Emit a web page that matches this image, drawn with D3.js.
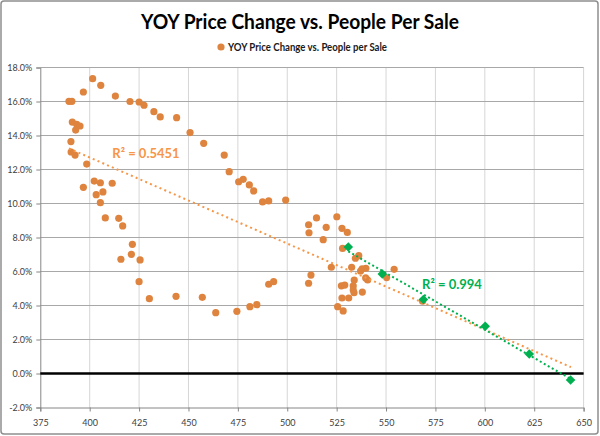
<!DOCTYPE html>
<html>
<head>
<meta charset="utf-8">
<script src="https://cdn.jsdelivr.net/npm/d3@7/dist/d3.min.js"></script>
<style>
  html, body { margin: 0; padding: 0; background: #fff; }
  svg { display: block; font-family: Lato, "Open Sans", sans-serif; }
</style>
</head>
<body>
<svg id="chart" width="600" height="436"></svg>
<script>
// ---------------- DATA ----------------
const chartTitle = "YOY Price Change vs. People Per Sale";
const legendLabel = "YOY Price Change vs. People per Sale";

// orange series: people per sale (x) and YOY price change in % (y)
const peoplePerSale = [
  401.5, 405.6, 396.8, 389.5, 391.0, 413.0, 420.4, 425.0, 427.5, 432.5,
  435.7, 444.0, 450.8, 457.7, 468.1, 470.6, 475.4, 477.7, 480.8, 483.0,
  487.5, 490.6, 499.2, 391.2, 393.4, 395.1, 392.9, 390.5, 390.6, 392.6,
  398.5, 396.8, 402.3, 405.4, 411.4, 403.3, 406.7, 405.4, 407.9, 414.7,
  416.7, 421.6, 421.1, 415.8, 425.5, 425.0, 430.2, 443.7, 457.0, 463.8,
  474.5, 481.1, 484.6, 490.6, 493.1, 510.8, 511.0, 514.8, 519.7, 518.2,
  525.1, 527.7, 530.4, 528.0, 534.5, 536.2, 522.3, 532.6, 537.1, 539.8,
  537.9, 554.1, 539.7, 540.7, 533.9, 512.0, 510.8, 527.4, 529.1, 533.4,
  533.4, 533.8, 538.0, 550.3, 527.7, 531.1, 525.5, 528.3, 568.5
];
const yoyChange = [
  17.34, 16.95, 16.56, 16.01, 16.01, 16.32, 16.00, 15.97, 15.78, 15.40,
  15.09, 15.05, 14.17, 13.54, 12.85, 11.87, 11.28, 11.42, 11.09, 10.74,
  10.09, 10.15, 10.20, 14.79, 14.66, 14.56, 14.32, 13.64, 13.03, 12.85,
  12.32, 10.95, 11.32, 11.22, 11.19, 10.52, 10.68, 10.05, 9.15, 9.13,
  8.68, 7.60, 7.01, 6.72, 6.68, 5.40, 4.40, 4.54, 4.48, 3.58,
  3.66, 3.93, 4.05, 5.25, 5.40, 8.75, 8.28, 9.15, 8.60, 7.87,
  9.22, 8.54, 8.30, 7.36, 6.78, 6.93, 6.25, 6.25, 6.03, 6.19,
  6.16, 6.13, 5.62, 5.50, 5.50, 5.79, 5.31, 5.16, 5.20, 5.15,
  4.91, 4.75, 4.79, 5.64, 4.44, 4.44, 3.93, 3.68, 4.25
];

// green series (projection points)
const greenPeoplePerSale = [530.9, 548.1, 568.9, 600.2, 622.5, 643.4];
const greenYoyChange = [7.44, 5.85, 4.35, 2.78, 1.15, -0.38];

// trendline info
const orangeR2Label = "R² = 0.5451";
const greenR2Label = "R² = 0.994";
const orangeTrendForwardTo = 643.6;   // orange trendline forecast end (x value)

// axis ticks
const xTicks = [375, 400, 425, 450, 475, 500, 525, 550, 575, 600, 625, 650];
const yTicks = [-2, 0, 2, 4, 6, 8, 10, 12, 14, 16, 18];

// ---------------- DRAW ----------------
const svg = d3.select("#chart");
const W = 600, H = 436;
const orange = "#DE843F", orangeLine = "#F79646", green = "#00B050";

// outer chart border
svg.append("rect").attr("x", 1).attr("y", 1).attr("width", W - 3).attr("height", H - 3)
  .attr("rx", 3).attr("fill", "#fff").attr("stroke", "#8e8e8e").attr("stroke-width", 1.5);

const x = d3.scaleLinear().domain([375, 650]).range([40.3, 583.6]);
const y = d3.scaleLinear().domain([-2, 18]).range([407.5, 67.5]);

function fitText(sel, maxW) {
  const n = sel.node();
  const w = n.getComputedTextLength();
  if (w > maxW) sel.attr("textLength", maxW).attr("lengthAdjust", "spacingAndGlyphs");
}

// title
const t = svg.append("text").attr("x", 300).attr("y", 29).attr("text-anchor", "middle")
  .attr("font-size", 20).attr("font-weight", "bold").attr("fill", "#000").text(chartTitle);
fitText(t, 318);

// legend
svg.append("circle").attr("cx", 221).attr("cy", 47).attr("r", 3.6).attr("fill", orange);
const lg = svg.append("text").attr("x", 228).attr("y", 50.5).attr("font-size", 10.5)
  .attr("font-weight", "bold").attr("fill", "#1a1a1a").text(legendLabel);
fitText(lg, 159);

// gridlines
const grid = svg.append("g");
grid.selectAll("line.v").data(xTicks.slice(1)).join("line")
  .attr("x1", d => x(d)).attr("x2", d => x(d)).attr("y1", y(18)).attr("y2", y(-2))
  .attr("stroke", "#d6d6d6").attr("stroke-width", 1);
grid.selectAll("line.h").data(yTicks.slice(1)).join("line")
  .attr("x1", x(375)).attr("x2", x(650)).attr("y1", d => y(d)).attr("y2", d => y(d))
  .attr("stroke", "#a8a8a8").attr("stroke-width", 1);

// axes
const yAxis = svg.append("g").attr("transform", `translate(${x(375)},0)`)
  .call(d3.axisLeft(y).tickValues(yTicks).tickSize(4).tickPadding(4)
    .tickFormat(d => d.toFixed(1) + "%"));
const xAxis = svg.append("g").attr("transform", `translate(0,${y(-2)})`)
  .call(d3.axisBottom(x).tickValues(xTicks).tickSize(4).tickPadding(8)
    .tickFormat(d3.format("d")));
[yAxis, xAxis].forEach(a => {
  a.select(".domain").attr("stroke", "#868686");
  a.selectAll(".tick line").attr("stroke", "#868686");
  a.selectAll(".tick text").attr("font-size", 9).attr("fill", "#404040")
    .attr("font-family", "Lato, 'Open Sans', sans-serif");
});

// zero line
svg.append("line").attr("x1", x(375)).attr("x2", x(650)).attr("y1", y(0)).attr("y2", y(0))
  .attr("stroke", "#000").attr("stroke-width", 2.6);

// regression helper
function linreg(xs, ys) {
  const n = xs.length;
  const mx = d3.mean(xs), my = d3.mean(ys);
  let sxy = 0, sxx = 0;
  for (let i = 0; i < n; i++) { sxy += (xs[i] - mx) * (ys[i] - my); sxx += (xs[i] - mx) ** 2; }
  const b = sxy / sxx;
  return { b, a: my - b * mx };
}

// orange points
const orangeData = peoplePerSale.map((v, i) => ({ x: v, y: yoyChange[i] }));
svg.append("g").selectAll("circle").data(orangeData).join("circle")
  .attr("cx", d => x(d.x)).attr("cy", d => y(d.y)).attr("r", 3.6).attr("fill", orange);

// orange trendline
const oFit = linreg(peoplePerSale, yoyChange);
const ox0 = d3.min(peoplePerSale), ox1 = orangeTrendForwardTo;
svg.append("line")
  .attr("x1", x(ox0)).attr("y1", y(oFit.a + oFit.b * ox0))
  .attr("x2", x(ox1)).attr("y2", y(oFit.a + oFit.b * ox1))
  .attr("stroke", orangeLine).attr("stroke-width", 2).attr("stroke-dasharray", "2,3.2");

// green trendline
const gFit = linreg(greenPeoplePerSale, greenYoyChange);
const gx0 = d3.min(greenPeoplePerSale), gx1 = d3.max(greenPeoplePerSale);
svg.append("line")
  .attr("x1", x(gx0)).attr("y1", y(gFit.a + gFit.b * gx0))
  .attr("x2", x(gx1)).attr("y2", y(gFit.a + gFit.b * gx1))
  .attr("stroke", green).attr("stroke-width", 2).attr("stroke-dasharray", "2,2.6");

// green diamonds
const greenData = greenPeoplePerSale.map((v, i) => ({ x: v, y: greenYoyChange[i] }));
svg.append("g").selectAll("path").data(greenData).join("path")
  .attr("d", d3.symbol(d3.symbolSquare, 46))
  .attr("transform", d => `translate(${x(d.x)},${y(d.y)}) rotate(45)`)
  .attr("fill", green);

// R² labels
svg.append("text").attr("x", 146).attr("y", 157.5).attr("text-anchor", "middle")
  .attr("font-size", 13).attr("font-weight", "bold").attr("fill", orangeLine).text(orangeR2Label);
svg.append("text").attr("x", 452).attr("y", 288.5).attr("text-anchor", "middle")
  .attr("font-size", 13).attr("font-weight", "bold").attr("fill", green).text(greenR2Label);
</script>
</body>
</html>
